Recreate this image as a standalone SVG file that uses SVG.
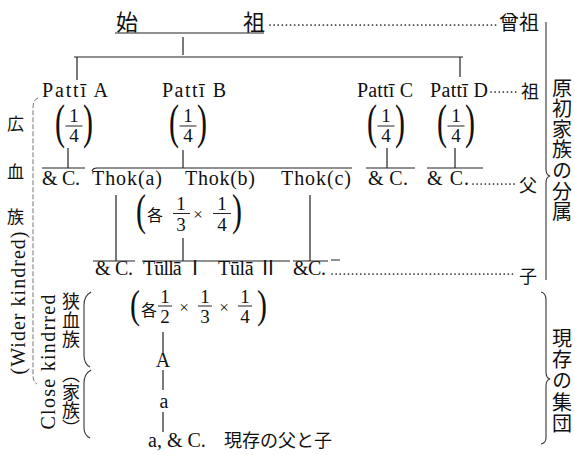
<svg xmlns="http://www.w3.org/2000/svg" width="575" height="455" viewBox="0 0 575 455">
<style>
.t{font-family:"Liberation Serif","Noto Sans CJK JP",serif;fill:#111;font-size:20px}
.j{font-family:"Noto Sans CJK JP",sans-serif;fill:#111}
.v{font-family:"Noto Sans CJK JP",sans-serif;fill:#111;writing-mode:vertical-rl}
.n{font-family:"Liberation Serif",serif;fill:#111;font-size:19px;text-anchor:middle}
.p{font-family:"Liberation Serif",serif;fill:#111;font-size:30px}
.x{font-family:"Liberation Serif",serif;fill:#111;font-size:17px;text-anchor:middle}
.ln{stroke:#222;stroke-width:1.2;fill:none}
.fb{stroke:#222;stroke-width:1;fill:none}
.dot{stroke:#222;stroke-width:1.7;stroke-dasharray:0.1 4;stroke-linecap:round;fill:none}
.br{stroke:#333;stroke-width:1.1;fill:none}
.dash{stroke:#777;stroke-width:1;stroke-dasharray:5 2;fill:none}
</style>
<defs>
<g id="q14">
<text class="p" text-anchor="end" transform="translate(-9,12) scale(1,1.6)">(</text>
<text class="p" transform="translate(9,12) scale(1,1.6)">)</text>
<text class="n" x="0" y="-4">1</text>
<line class="fb" x1="-8.5" y1="0" x2="8.5" y2="0"/>
<text class="n" x="0" y="16">4</text>
</g>
</defs>

<g id="connectors">
<path class="ln" d="M115 33H264"/>
<path class="ln" d="M183 37V55"/>
<path class="ln" d="M74 57H463"/>
<path class="ln" d="M77 57V80"/>
<path class="ln" d="M460 57V77"/>
<path class="ln" d="M68 148V168M183 150V168M387 148V168M455 148V168"/>
<path class="ln" d="M42 168H85M92 171Q93 168 97 168H352M366 168H415M427 168H483"/>
<path class="ln" d="M116 195V261M310 195V261M183 238V261"/>
<path class="ln" d="M93 261H135M142 261H290M293 261H328M331 260H340"/>
<path class="ln" d="M163 332V354M163 370V390M163 412V432"/>
<path class="dot" d="M270 25H497"/>
<path class="dot" d="M491 92H519"/>
<path class="dot" d="M473 184H516"/>
<path class="dot" d="M332 274H516"/>
<path class="br" d="M546 22V169Q546 175 550 176Q546 177 546 183V280"/>
<path class="br" d="M541 292Q546 293 546 300V372Q546 378 550 379Q546 380 546 386V438Q546 443 541 444"/>
<path class="dash" d="M38 98Q33 100 33 108V375Q33 382 37 384"/>
<path class="br" d="M91 292Q84 296 84 305V355Q84 364 90 367M91 370Q84 374 84 383V428Q84 435 90 438"/>
</g>

<g id="shiso">
<text class="j" x="116" y="30" font-size="22">始</text>
<text class="j" x="243" y="30" font-size="22">祖</text>
</g>
<g id="sooso"><text class="j" x="499" y="30" font-size="20">曾祖</text></g>

<g id="pattiA"><text class="t" x="42" y="97" textLength="66" lengthAdjust="spacing">Pattī A</text><use href="#q14" x="74" y="126"/></g>
<g id="pattiB"><text class="t" x="162" y="97" textLength="64" lengthAdjust="spacing">Pattī B</text><use href="#q14" x="188" y="126"/></g>
<g id="pattiC"><text class="t" x="357" y="97" textLength="56" lengthAdjust="spacing">Pattī C</text><use href="#q14" x="386" y="126"/></g>
<g id="pattiD"><text class="t" x="430" y="97" textLength="58" lengthAdjust="spacing">Pattī D</text><use href="#q14" x="456" y="126"/></g>
<g id="so"><text class="j" x="521" y="98" font-size="18">祖</text></g>

<g id="thok">
<text class="t" x="42" y="185" textLength="38" lengthAdjust="spacing">&amp; C.</text>
<text class="t" x="92" y="185" textLength="70" lengthAdjust="spacing">Thok(a)</text>
<text class="t" x="185" y="185" textLength="70" lengthAdjust="spacing">Thok(b)</text>
<text class="t" x="281" y="185" textLength="70" lengthAdjust="spacing">Thok(c)</text>
<text class="t" x="368" y="185" textLength="40" lengthAdjust="spacing">&amp; C.</text>
<text class="t" x="427" y="185" textLength="42" lengthAdjust="spacing">&amp; C.</text>
<text class="j" x="519" y="192" font-size="18">父</text>
</g>

<g id="frac2">
<text class="p" text-anchor="end" transform="translate(146,225) scale(1,1.45)">(</text>
<text class="j" x="147" y="221" font-size="16">各</text>
<text class="n" x="181" y="210" font-size="18">1</text><line class="fb" x1="173" y1="213.5" x2="190" y2="213.5"/><text class="n" x="181" y="231" font-size="18">3</text>
<text class="x" x="198" y="220">×</text>
<text class="n" x="222" y="210" font-size="18">1</text><line class="fb" x1="213" y1="213.5" x2="231" y2="213.5"/><text class="n" x="222" y="231" font-size="18">4</text>
<text class="p" transform="translate(232,225) scale(1,1.45)">)</text>
</g>

<g id="tulla">
<text class="t" x="95" y="275" textLength="38" lengthAdjust="spacing">&amp; C.</text>
<text class="t" x="143" y="275" textLength="62" lengthAdjust="spacing">Tūllā Ⅰ</text>
<text class="t" x="218" y="275" textLength="60" lengthAdjust="spacing">Tūlā Ⅱ</text>
<text class="t" x="293" y="275" textLength="33" lengthAdjust="spacing">&amp;C.</text>
<text class="j" x="519" y="283" font-size="18">子</text>
</g>

<g id="frac3">
<text class="p" text-anchor="end" transform="translate(140,318) scale(1,1.35)">(</text>
<text class="j" x="141" y="316" font-size="16">各</text>
<text class="n" x="165" y="303">1</text><line class="fb" x1="158" y1="306" x2="172" y2="306"/><text class="n" x="165" y="323">2</text>
<text class="x" x="184" y="313">×</text>
<text class="n" x="205" y="303">1</text><line class="fb" x1="198" y1="306" x2="212" y2="306"/><text class="n" x="205" y="323">3</text>
<text class="x" x="224" y="313">×</text>
<text class="n" x="245" y="303">1</text><line class="fb" x1="238" y1="306" x2="252" y2="306"/><text class="n" x="245" y="323">4</text>
<text class="p" transform="translate(257,318) scale(1,1.35)">)</text>
</g>

<g id="A"><text class="t" x="163" y="367" text-anchor="middle">A</text></g>
<g id="a"><text class="t" x="164" y="408" text-anchor="middle">a</text></g>
<g id="bottom">
<text class="t" x="148" y="447">a, &amp; C.</text>
<text class="j" x="224" y="447" font-size="18">現存の父と子</text>
</g>

<g id="left">
<text class="j" x="7" y="130" font-size="17">広</text>
<text class="j" x="7" y="178" font-size="17">血</text>
<text class="j" x="7" y="223" font-size="17">族</text>
<text class="t" x="25" y="303" text-anchor="middle" transform="rotate(-90 25 303)" textLength="143" lengthAdjust="spacing">(Wider kindred)</text>
<text class="t" x="55" y="362" text-anchor="middle" transform="rotate(-90 55 362)" textLength="135" lengthAdjust="spacing">Close kindrred</text>
<text class="v" x="71" y="292" font-size="18" letter-spacing="1">狭血族</text>
<text class="v" x="71" y="365" font-size="18">（家族）</text>
</g>

<g id="right">
<text class="v" x="562" y="78" font-size="20" letter-spacing="0.6">原初家族の分属</text>
<text class="v" x="562" y="328" font-size="20" letter-spacing="1.4">現存の集団</text>
</g>
</svg>
